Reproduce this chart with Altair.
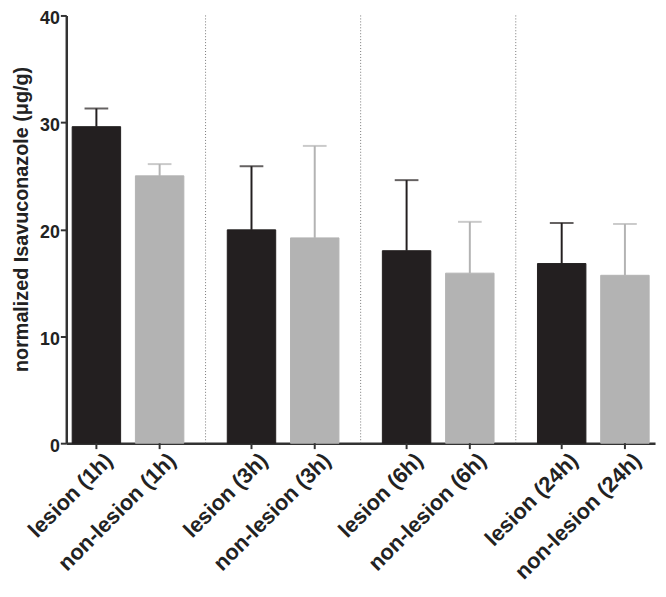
import altair as alt
import pandas as pd

groups = ["1h", "3h", "6h", "24h"]
tissue = ["lesion", "non-lesion"]
lesion_mean = [29.6, 19.95, 18.0, 16.8]
lesion_upper = [31.3, 25.9, 24.6, 20.6]
nonlesion_mean = [25.0, 19.2, 15.9, 15.7]
nonlesion_upper = [26.1, 27.8, 20.7, 20.5]
y_ticks = [0, 10, 20, 30, 40]

rows = []
for i, g in enumerate(groups):
    rows.append({"group": g, "tissue": "lesion", "label": f"lesion ({g})",
                 "mean": lesion_mean[i], "upper": lesion_upper[i]})
    rows.append({"group": g, "tissue": "non-lesion", "label": f"non-lesion ({g})",
                 "mean": nonlesion_mean[i], "upper": nonlesion_upper[i]})
df = pd.DataFrame(rows)
sep_df = pd.DataFrame({"group": groups[:-1]})

W, H = 596, 433
FONT = "Liberation Sans"
DARK = "#231f20"
GRAY = "#b3b3b3"

x_enc = alt.X("group:N", sort=groups,
              scale=alt.Scale(paddingInner=0.28, paddingOuter=0.038),
              axis=alt.Axis(labels=False, ticks=False, title=None, domainColor="#333333",
                            domainWidth=2.5))
xo_enc = alt.XOffset("tissue:N", sort=tissue,
                     scale=alt.Scale(paddingInner=0.234, paddingOuter=0))
color_enc = alt.Color("tissue:N", sort=tissue,
                      scale=alt.Scale(domain=tissue, range=[DARK, GRAY]), legend=None)

y_scale = alt.Scale(domain=[0, 40], nice=False)

base = alt.Chart(df)

bars = base.mark_bar(strokeWidth=1).encode(
    x=x_enc, xOffset=xo_enc,
    y=alt.Y("mean:Q", scale=y_scale,
            axis=alt.Axis(values=y_ticks, title="normalized Isavuconazole (μg/g)",
                          grid=False, domainColor="#333333", domainWidth=2.5,
                          tickColor="#333333", tickWidth=2, tickSize=6,
                          labelFont=FONT, labelFontSize=18, labelFontWeight="bold",
                          labelColor="#222222", labelPadding=1, labelOffset=3,
                          titleFont=FONT, titleFontSize=20, titleFontWeight="bold",
                          titleColor="#222222", titleAngle=270, titleX=-45,
                          titleY=206, titleAlign="center", titleBaseline="middle")),
    color=color_enc,
    stroke=color_enc,
)

stems = base.mark_rule(strokeWidth=2).encode(
    x=alt.X("group:N", sort=groups), xOffset=xo_enc,
    y="mean:Q", y2="upper:Q", color=color_enc,
)

caps = base.mark_tick(thickness=2, size=24).encode(
    x=alt.X("group:N", sort=groups), xOffset=xo_enc,
    y="upper:Q", color=color_enc,
)

xticks = base.mark_rule(strokeWidth=2, color="#333333").encode(
    x=alt.X("group:N", sort=groups), xOffset=xo_enc,
    y=alt.value(H), y2=alt.value(H + 6),
)

xlabels = base.mark_text(angle=315, align="right", baseline="middle", font=FONT,
                         fontSize=22, fontWeight="bold", color="#222222",
                         dx=9, dy=9).encode(
    x=alt.X("group:N", sort=groups), xOffset=xo_enc,
    y=alt.value(H + 14), text="label:N",
)

seps = alt.Chart(sep_df).mark_rule(strokeDash=[1, 2], color="#777777", strokeWidth=1,
                                   xOffset=78.5).encode(
    x=alt.X("group:N", sort=groups),
    y=alt.value(0), y2=alt.value(H),
)

chart = alt.layer(seps, bars, stems, caps, xticks, xlabels).properties(
    width=W, height=H,
    autosize=alt.AutoSizeParams(type="none"),
    padding={"left": 59, "top": 4, "right": 3, "bottom": 140},
).configure_view(stroke=None)

chart.save("out.html", embed_options={"renderer": "svg", "actions": False})
